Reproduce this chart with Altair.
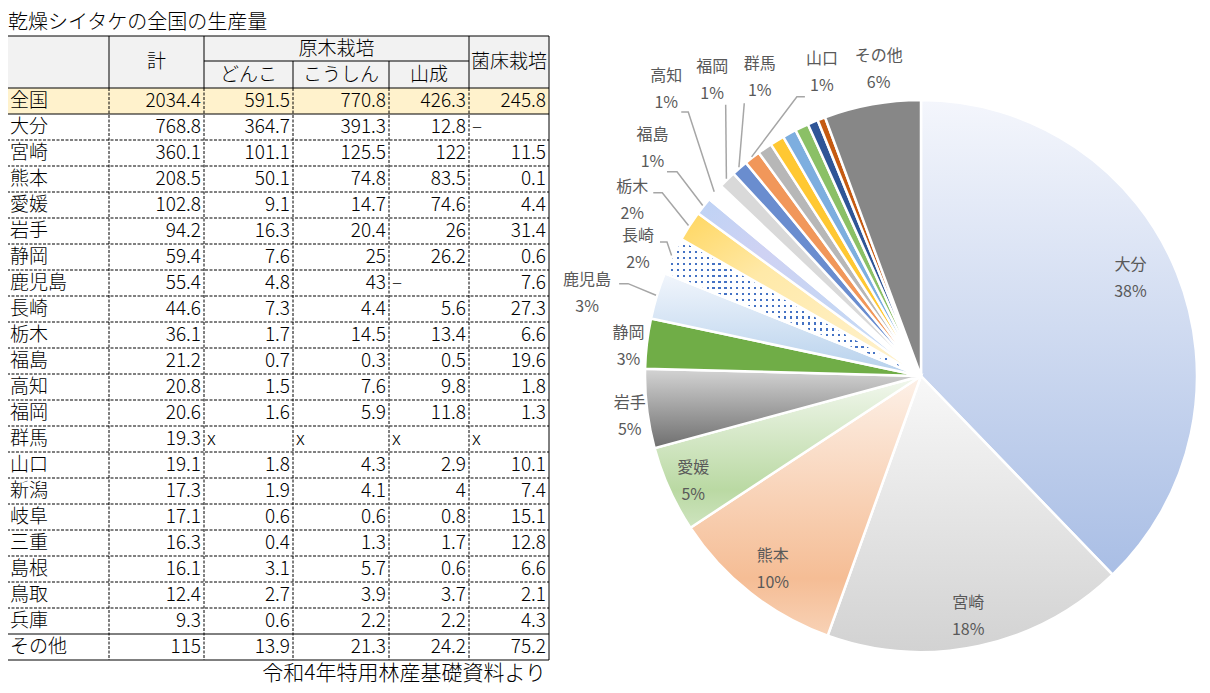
import math
import altair as alt
import pandas as pd

# ---------------- data ----------------
TITLE = "乾燥シイタケの全国の生産量"
SOURCE = "令和4年特用林産基礎資料より"
HEAD_TOTAL = "計"
HEAD_GENBOKU = "原木栽培"
SUB_HEAD = ["どんこ", "こうしん", "山成"]
HEAD_KINSHO = "菌床栽培"

prefs = ["全国", "大分", "宮崎", "熊本", "愛媛", "岩手", "静岡", "鹿児島", "長崎", "栃木", "福島",
         "高知", "福岡", "群馬", "山口", "新潟", "岐阜", "三重", "島根", "鳥取", "兵庫", "その他"]
total = [2034.4, 768.8, 360.1, 208.5, 102.8, 94.2, 59.4, 55.4, 44.6, 36.1, 21.2,
         20.8, 20.6, 19.3, 19.1, 17.3, 17.1, 16.3, 16.1, 12.4, 9.3, 115]
donko = [591.5, 364.7, 101.1, 50.1, 9.1, 16.3, 7.6, 4.8, 7.3, 1.7, 0.7,
         1.5, 1.6, "x", 1.8, 1.9, 0.6, 0.4, 3.1, 2.7, 0.6, 13.9]
koushin = [770.8, 391.3, 125.5, 74.8, 14.7, 20.4, 25, 43, 4.4, 14.5, 0.3,
           7.6, 5.9, "x", 4.3, 4.1, 0.6, 1.3, 5.7, 3.9, 2.2, 21.3]
sansei = [426.3, 12.8, 122, 83.5, 74.6, 26, 26.2, "–", 5.6, 13.4, 0.5,
          9.8, 11.8, "x", 2.9, 4, 0.8, 1.7, 0.6, 3.7, 2.2, 24.2]
kinsho = [245.8, "–", 11.5, 0.1, 4.4, 31.4, 0.6, 7.6, 27.3, 6.6, 19.6,
          1.8, 1.3, "x", 10.1, 7.4, 15.1, 12.8, 6.6, 2.1, 4.3, 75.2]

pie_names = prefs[1:]
pie_values = total[1:]
labeled = ["大分", "宮崎", "熊本", "愛媛", "岩手", "静岡", "鹿児島", "長崎", "栃木", "福島",
           "高知", "福岡", "群馬", "山口", "その他"]

# ---------------- layout / style ----------------
PX0, PY0 = 8, 8
W, H = 1194, 677
FONT = "Noto Sans CJK JP"
COL_EDGES = [7, 109, 204, 293, 389, 469, 549]
Y_TOP, Y_MID, Y_HEAD = 36, 61, 88
ROW_H = 26
CX, CY, R = 921, 376, 276

xs = alt.Scale(domain=[PX0, PX0 + W], nice=False, zero=False)
ys = alt.Scale(domain=[PY0 + H, PY0], nice=False, zero=False)


def X(f="x"):
    return alt.X(f"{f}:Q", scale=xs, axis=None)


def Y(f="y"):
    return alt.Y(f"{f}:Q", scale=ys, axis=None)


def lin(stops, x1=0, y1=0, x2=0, y2=1):
    return alt.Gradient(gradient="linear",
                        stops=[alt.GradientStop(offset=o, color=c) for o, c in stops],
                        x1=x1, y1=y1, x2=x2, y2=y2)


layers = []

# backgrounds
bg = pd.DataFrame([
    dict(x=COL_EDGES[0], x2=COL_EDGES[-1], y=Y_TOP, y2=Y_HEAD, c="#F2F2F2"),
    dict(x=COL_EDGES[0], x2=COL_EDGES[-1], y=Y_HEAD, y2=Y_HEAD + ROW_H, c="#FFF2CC"),
])
layers.append(alt.Chart(bg).mark_rect().encode(
    x=X(), x2="x2", y=Y(), y2="y2", fill=alt.Fill("c:N", scale=None)))

# table lines
n_rows = len(prefs)
y_bot = Y_HEAD + ROW_H * n_rows
solid, dashed = [], []
L, Rt = COL_EDGES[0], COL_EDGES[-1]
for yy in [Y_TOP, Y_HEAD, Y_HEAD + ROW_H, Y_HEAD + ROW_H * (n_rows - 1), y_bot]:
    solid.append(dict(x=L, x2=Rt, y=yy, y2=yy))
solid.append(dict(x=COL_EDGES[2], x2=COL_EDGES[5], y=Y_MID, y2=Y_MID))
solid.append(dict(x=L, x2=L, y=Y_TOP, y2=y_bot))
solid.append(dict(x=Rt, x2=Rt, y=Y_TOP, y2=y_bot))
for i, xx in enumerate(COL_EDGES[1:-1], start=1):
    top = Y_MID if i in (3, 4) else Y_TOP
    solid.append(dict(x=xx, x2=xx, y=top, y2=Y_HEAD))
    dashed.append(dict(x=xx, x2=xx, y=Y_HEAD, y2=y_bot))
for k in range(2, n_rows - 1):
    yy = Y_HEAD + ROW_H * k
    dashed.append(dict(x=L, x2=Rt, y=yy, y2=yy))
layers.append(alt.Chart(pd.DataFrame(dashed)).mark_rule(
    color="black", strokeWidth=1, strokeDash=[3, 1.5]).encode(x=X(), x2="x2", y=Y(), y2="y2"))
layers.append(alt.Chart(pd.DataFrame(solid)).mark_rule(
    color="black", strokeWidth=1).encode(x=X(), x2="x2", y=Y(), y2="y2"))

# table texts
cols = [total, donko, koushin, sansei, kinsho]
left_t, right_t = [], []
for i, name in enumerate(prefs):
    yc = Y_HEAD + ROW_H * (i + 0.5)
    left_t.append(dict(x=COL_EDGES[0] + 3, y=yc, t=name))
    for j, col in enumerate(cols):
        v = col[i]
        if isinstance(v, str):
            left_t.append(dict(x=COL_EDGES[j + 1] + 3, y=yc, t=v))
        else:
            right_t.append(dict(x=COL_EDGES[j + 2] - 3, y=yc, t=f"{v:g}"))
tstyle = dict(font=FONT, fontSize=19, color="black", baseline="middle", fontWeight=300)
layers.append(alt.Chart(pd.DataFrame(left_t)).mark_text(align="left", **tstyle).encode(
    x=X(), y=Y(), text="t:N"))
layers.append(alt.Chart(pd.DataFrame(right_t)).mark_text(align="right", **tstyle).encode(
    x=X(), y=Y(), text="t:N"))

yh = (Y_TOP + Y_HEAD) / 2
head = [dict(x=(COL_EDGES[1] + COL_EDGES[2]) / 2, y=yh, t=HEAD_TOTAL),
        dict(x=(COL_EDGES[2] + COL_EDGES[5]) / 2, y=(Y_TOP + Y_MID) / 2, t=HEAD_GENBOKU),
        dict(x=(COL_EDGES[5] + COL_EDGES[6]) / 2, y=yh, t=HEAD_KINSHO)]
for j, s in enumerate(SUB_HEAD):
    head.append(dict(x=(COL_EDGES[2 + j] + COL_EDGES[3 + j]) / 2, y=(Y_MID + Y_HEAD) / 2, t=s))
layers.append(alt.Chart(pd.DataFrame(head)).mark_text(align="center", **tstyle).encode(
    x=X(), y=Y(), text="t:N"))

# title and source
ttl = dict(tstyle)
ttl["fontSize"] = 20
layers.append(alt.Chart(pd.DataFrame([dict(x=8, y=23, t=TITLE)])).mark_text(
    align="left", **ttl).encode(x=X(), y=Y(), text="t:N"))
src = dict(tstyle)
src["fontSize"] = 21
layers.append(alt.Chart(pd.DataFrame([dict(x=546, y=674, t=SOURCE)])).mark_text(
    align="right", **src).encode(x=X(), y=Y(), text="t:N"))

# ---------------- pie ----------------
T = sum(pie_values)
rows, cum = [], 0.0
for n, v in zip(pie_names, pie_values):
    rows.append(dict(name=n, value=v, start=cum, end=cum + v))
    cum += v
pie_df = pd.DataFrame(rows)
theta_scale = alt.Scale(domain=[0, T], range=[0, 2 * math.pi])


def deg(v):
    return v / T * 360.0


def bbox(a0, a1):
    pts = [(0.0, 0.0)]
    angs = [a0, a1] + [a for a in (0, 90, 180, 270, 360) if a0 < a < a1]
    for a in angs:
        r = math.radians(a)
        pts.append((R * math.sin(r), -R * math.cos(r)))
    return (max(p[0] for p in pts) - min(p[0] for p in pts),
            max(p[1] for p in pts) - min(p[1] for p in pts))


def stripes(n, frac, on, off, along_x):
    st = []
    for i in range(n):
        a, b, c = i / n, (i + frac) / n, (i + 1) / n
        st += [(a, on), (b, on), (b, off), (c, off)]
    return lin(st, 0, 0, 1, 0) if along_x else lin(st, 0, 0, 0, 1)


FILLS = {
    "大分": lin([(0, "#F4F6FC"), (1, "#A9BEE5")]),
    "宮崎": lin([(0, "#F8F8F8"), (1, "#D2D2D2")]),
    "熊本": lin([(0, "#FDF1E8"), (0.78, "#F5BD95"), (1, "#F8D2B6")]),
    "愛媛": lin([(0, "#F3F8EF"), (0.75, "#BAD9A3"), (1, "#CEE4BF")]),
    "岩手": lin([(0, "#D4D4D4"), (1, "#6E6E6E")]),
    "静岡": "#70AD47",
    "鹿児島": lin([(0, "#F2F6FC"), (1, "#B5D0EC")]),
    "栃木": lin([(0, "#FFD65E"), (0.35, "#FFE9A8"), (1, "#FFF3D2")], 0, 0, 1, 1),
    "福島": lin([(0, "#BED3F5"), (0.3, "#CFD2F3"), (0.6, "#C6D6F4"), (1, "#CDE0F6")], 0, 0, 1, 1),
    "高知": "#FFFFFF",
    "福岡": "#D9D9D9",
    "群馬": "#6A8DCF",
    "山口": "#F1975A",
    "新潟": "#B7B7B7",
    "岐阜": "#FFC832",
    "三重": "#7DAEDF",
    "島根": "#8BC066",
    "鳥取": "#2F5597",
    "兵庫": "#C55A11",
    "その他": "#878787",
}


def slice_chart(name, fill, stroke="white", sw=2.5):
    d = pie_df[pie_df.name == name]
    mk = dict(outerRadius=R, fill=fill, strokeWidth=sw)
    if stroke:
        mk["stroke"] = stroke
    else:
        mk["strokeWidth"] = 0
    return alt.Chart(d).mark_arc(**mk).encode(
        x=alt.value(CX - PX0), y=alt.value(CY - PY0),
        theta=alt.Theta("start:Q", scale=theta_scale), theta2=alt.Theta2("end"))


for n in pie_names:
    if n == "長崎":
        r0 = pie_df[pie_df.name == n].iloc[0]
        bw, bh = bbox(deg(r0.start), deg(r0.end))
        ny, nx = max(1, round(bh / 6)), max(1, round(bw / 6))
        layers.append(slice_chart(n, stripes(ny, 0.36, "#4472C4", "#FFFFFF", False), stroke=None))
        layers.append(slice_chart(n, stripes(nx, 0.36, "rgba(255,255,255,0)", "#FFFFFF", True)))
    else:
        layers.append(slice_chart(n, FILLS[n]))

# label layout: (angle offset from slice middle in degrees, radius in px)
LABEL_LAYOUT = {
    "大分": (-3.0, 231), "宮崎": (1.0, 245), "熊本": (-0.8, 244), "愛媛": (-0.6, 251),
    "岩手": (-1.1, 294), "静岡": (-1.1, 294), "鹿児島": (-3.0, 344), "長崎": (-1.7, 310),
    "栃木": (-1.6, 338), "福島": (2.3, 352), "高知": (6.6, 383), "福岡": (9.4, 362),
    "群馬": (12.7, 339), "山口": (19.6, 319), "その他": (2.3, 309),
}
# leader elbows relative to label centre
LEADERS = {
    "鹿児島": [(32, -9.5), (41, -9.5)],
    "長崎": [(22, -7.5), (29, -7.5)],
    "栃木": [(21, -7.5), (30, -7.5)],
    "福島": [(14.5, 23.5), (24.5, 23.5)],
    "高知": [(15, 22), (22, 22)],
    "福岡": [(13.5, 24.5)],
    "群馬": [(-15.5, 25.5)],
    "山口": [(-17, 24), (-25, 24)],
}


def polar(a_deg, r):
    a = math.radians(a_deg)
    return CX + r * math.sin(a), CY - r * math.cos(a)


lab_rows, lead_rows = [], []
for n in labeled:
    r0 = pie_df[pie_df.name == n].iloc[0]
    mid = deg((r0.start + r0.end) / 2)
    da, rr = LABEL_LAYOUT[n]
    lx, ly = polar(mid + da, rr)
    pct = f"{round(r0.value / T * 100)}%"
    lab_rows.append(dict(x=lx, y=ly - 13.5, t=n))
    lab_rows.append(dict(x=lx, y=ly + 13.5, t=pct))
    if n in LEADERS:
        pts = [(lx + dx, ly + dy) for dx, dy in LEADERS[n]] + [polar(mid, R + 1)]
        for k, (px, py) in enumerate(pts):
            lead_rows.append(dict(g=n, o=k, x=px, y=py))

layers.append(alt.Chart(pd.DataFrame(lead_rows)).mark_line(
    color="#A6A6A6", strokeWidth=1.5).encode(
    x=X(), y=Y(), detail="g:N", order="o:Q"))
layers.append(alt.Chart(pd.DataFrame(lab_rows)).mark_text(
    font=FONT, fontSize=16, color="#595959", align="center", baseline="middle").encode(
    x=X(), y=Y(), text="t:N"))

chart = alt.layer(*layers).properties(
    width=W, height=H, padding=0, autosize=alt.AutoSizeParams(type="none")
).configure_view(stroke=None)

chart.save("out.html", embed_options={"renderer": "svg", "actions": False})
